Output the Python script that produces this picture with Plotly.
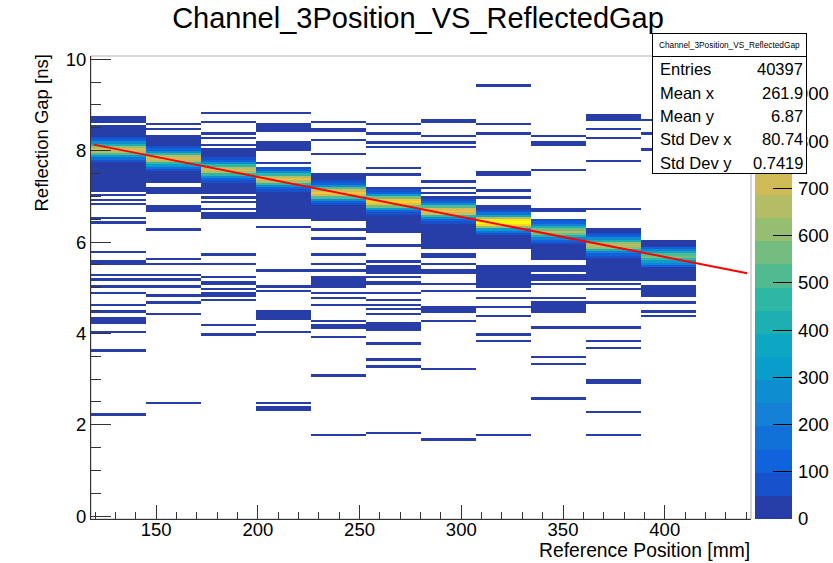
import numpy as np
import plotly.graph_objects as go

W, H = 833, 563

title_text = "Channel_3Position_VS_ReflectedGap"
x_title = "Reference Position [mm]"
y_title = "Reflection Gap [ns]"

# histogram binning
x_first_edge = 118.0
x_bin_width = 27.03
n_x_bins = 12
y_bin_width = 0.05
n_y_bins = 204
x_range = [118.0, 442.4]
y_range = [-0.06, 10.07]
z_max = 980

# occupied y ranges per x bin: [y_low, y_high, count]
bin01 = [[8.60, 8.75, 8], [7.10, 8.57, 10], [7.00, 7.00, 2], [6.90, 6.90, 2], [6.81, 6.81, 2],
         [6.52, 6.57, 5], [6.38, 6.46, 6], [5.75, 5.75, 2], [5.48, 5.58, 5], [5.27, 5.27, 2],
         [5.16, 5.16, 2], [5.01, 5.01, 2], [4.85, 4.91, 4], [4.61, 4.61, 2], [4.48, 4.53, 3],
         [4.34, 4.39, 4], [4.19, 4.29, 5], [4.02, 4.02, 2], [3.62, 3.62, 1], [2.22, 2.22, 1]]
bin02 = [[8.59, 8.59, 2], [8.48, 8.48, 2], [7.28, 8.36, 10], [7.07, 7.22, 6], [6.63, 6.81, 6],
         [6.25, 6.25, 2], [5.60, 5.60, 2], [5.50, 5.50, 2], [5.27, 5.27, 2], [5.16, 5.16, 2],
         [5.03, 5.03, 2], [4.78, 4.87, 4], [4.67, 4.67, 2], [4.41, 4.41, 2], [2.46, 2.46, 1]]
bin03 = [[8.80, 8.80, 2], [8.64, 8.64, 2], [8.36, 8.42, 4], [8.29, 8.29, 2], [8.13, 8.13, 2],
         [7.03, 8.05, 10], [6.95, 6.95, 2], [6.87, 6.87, 2], [6.68, 6.76, 5], [6.52, 6.63, 6],
         [5.73, 5.73, 2], [5.50, 5.50, 2], [5.21, 5.21, 2], [5.07, 5.14, 4], [4.97, 4.97, 2],
         [4.79, 4.91, 5], [4.72, 4.72, 2], [4.15, 4.15, 2], [3.94, 4.00, 3]]
bin04 = [[8.84, 8.84, 2], [8.38, 8.60, 8], [8.07, 8.20, 5], [8.00, 8.00, 2], [7.74, 7.74, 2],
         [6.56, 7.65, 10], [6.51, 6.51, 2], [6.34, 6.34, 2], [5.36, 5.36, 2], [5.01, 5.01, 2],
         [4.92, 4.92, 2], [4.37, 4.48, 5], [4.31, 4.31, 2], [4.02, 4.02, 2], [2.48, 2.48, 1],
         [2.31, 2.41, 3]]
bin05 = [[8.58, 8.65, 4], [8.38, 8.51, 6], [8.24, 8.24, 2], [7.94, 7.94, 2], [6.45, 7.51, 10],
         [6.23, 6.32, 4], [6.05, 6.05, 2], [5.71, 5.71, 2], [5.50, 5.50, 2], [5.34, 5.42, 4],
         [5.01, 5.27, 8], [4.87, 4.87, 2], [4.75, 4.75, 2], [4.61, 4.61, 2], [4.23, 4.31, 4],
         [4.08, 4.18, 5], [3.91, 3.91, 2], [3.06, 3.06, 1], [1.77, 1.77, 1]]
bin06 = [[8.55, 8.55, 2], [8.33, 8.40, 4], [8.19, 8.19, 2], [8.05, 8.05, 2], [7.63, 7.63, 2],
         [7.49, 7.49, 2], [6.20, 7.20, 10], [5.90, 5.90, 2], [5.56, 5.56, 2], [5.49, 5.49, 2],
         [5.32, 5.43, 5], [5.20, 5.20, 2], [5.04, 5.14, 5], [4.87, 4.87, 2], [4.72, 4.72, 2],
         [4.61, 4.61, 2], [4.52, 4.52, 2], [4.42, 4.42, 2], [4.05, 4.23, 7], [3.77, 3.77, 2],
         [3.42, 3.42, 2], [3.27, 3.27, 2], [1.82, 1.82, 1]]
bin07 = [[8.58, 8.71, 6], [8.33, 8.33, 2], [8.19, 8.19, 2], [8.09, 8.09, 2], [7.31, 7.31, 2],
         [7.16, 7.16, 2], [7.05, 7.05, 2], [5.83, 6.98, 10], [5.63, 5.76, 5], [5.52, 5.52, 2],
         [5.28, 5.42, 5], [5.05, 5.05, 2], [4.91, 4.91, 2], [4.43, 4.58, 6], [4.26, 4.26, 2],
         [3.21, 3.21, 1], [1.68, 1.68, 1]]
bin08 = [[9.44, 9.44, 1], [8.55, 8.55, 2], [8.33, 8.40, 4], [7.54, 7.54, 2], [7.46, 7.46, 2],
         [7.11, 7.11, 2], [6.95, 6.95, 2], [5.83, 6.81, 10], [5.01, 5.49, 8], [4.91, 4.91, 2],
         [4.74, 4.81, 4], [4.56, 4.56, 2], [4.36, 4.36, 2], [3.94, 4.02, 4], [3.81, 3.81, 2],
         [1.77, 1.77, 1]]
bin09 = [[8.33, 8.33, 2], [8.19, 8.19, 2], [8.11, 8.11, 2], [7.59, 7.59, 2], [6.74, 6.74, 2],
         [6.67, 6.67, 2], [5.58, 6.52, 10], [5.37, 5.52, 5], [5.14, 5.28, 5], [5.05, 5.05, 2],
         [4.77, 4.77, 2], [4.45, 4.72, 8], [4.12, 4.12, 2], [3.46, 3.46, 2], [3.31, 3.37, 3],
         [2.57, 2.57, 1]]
bin10 = [[8.67, 8.80, 6], [8.48, 8.48, 2], [8.26, 8.26, 2], [7.75, 7.75, 2], [6.71, 6.71, 2],
         [5.14, 6.32, 10], [5.05, 5.05, 2], [4.96, 4.96, 2], [4.64, 4.72, 4], [4.12, 4.12, 2],
         [3.81, 3.81, 2], [3.67, 3.67, 2], [2.89, 2.99, 4], [2.26, 2.26, 1], [1.77, 1.77, 1]]
bin11 = [[8.64, 8.71, 4], [8.35, 8.35, 2], [8.00, 8.00, 2], [5.14, 6.03, 10], [4.79, 5.03, 8],
         [4.66, 4.66, 2], [4.45, 4.52, 4], [4.35, 4.35, 2]]
bin12 = []
stripes = [bin01, bin02, bin03, bin04, bin05, bin06, bin07, bin08, bin09, bin10, bin11, bin12]

# dense core of each x bin: centre (ns) and counts of 11 y bins from low to high y
core_center = [8.02, 7.80, 7.56, 7.35, 7.09, 6.87, 6.65, 6.40, 6.20, 5.94, 5.69]
core_counts = [
    [70, 170, 320, 500, 650, 700, 600, 420, 250, 130, 60],
    [60, 150, 300, 480, 660, 720, 640, 460, 280, 140, 60],
    [60, 140, 290, 470, 650, 720, 640, 450, 260, 120, 50],
    [50, 130, 270, 460, 660, 740, 660, 460, 260, 120, 50],
    [50, 130, 280, 500, 720, 820, 730, 520, 290, 130, 50],
    [60, 140, 300, 540, 780, 880, 800, 580, 320, 140, 50],
    [50, 120, 270, 480, 690, 780, 720, 520, 290, 130, 50],
    [60, 150, 330, 600, 880, 980, 900, 650, 360, 160, 60],
    [50, 110, 230, 400, 570, 640, 580, 420, 240, 110, 50],
    [50, 110, 240, 420, 600, 680, 610, 440, 250, 120, 50],
    [40, 100, 200, 340, 480, 540, 490, 360, 210, 100, 40],
]

# linear fit drawn over the histogram
fit_p0 = 9.175
fit_p1 = -0.008754
fit_x_range = [119.3, 440.5]

stat_title = "Channel_3Position_VS_ReflectedGap"
stat_names = ["Entries", "Mean x", "Mean y", "Std Dev x", "Std Dev y"]
stat_values = ["40397", "261.9", "6.87", "80.74", "0.7419"]
palette_ticks = [0, 100, 200, 300, 400, 500, 600, 700, 800, 900]

# ---------------------------------------------------------------- colours (ROOT kBird)
bird_stops = [0.0, 0.125, 0.25, 0.375, 0.5, 0.625, 0.75, 0.875, 1.0]
bird_r = [0.2082, 0.0592, 0.0780, 0.0232, 0.1802, 0.5301, 0.8186, 0.9956, 0.9764]
bird_g = [0.1664, 0.3599, 0.5041, 0.6419, 0.7178, 0.7492, 0.7328, 0.7862, 0.9832]
bird_b = [0.5293, 0.8684, 0.8385, 0.7914, 0.6425, 0.4662, 0.3499, 0.1968, 0.0539]
n_levels = 20


def bird(f):
    return "rgb(%d,%d,%d)" % (round(255 * np.interp(f, bird_stops, bird_r)),
                              round(255 * np.interp(f, bird_stops, bird_g)),
                              round(255 * np.interp(f, bird_stops, bird_b)))


colorscale = []
for i in range(n_levels):
    idx = min(int((i + 0.99) * 255 / n_levels), 254)
    c = bird(idx / 254)
    colorscale.append([i / n_levels, c])
    colorscale.append([(i + 1) / n_levels, c])

# ---------------------------------------------------------------- histogram content
z = np.full((n_y_bins, n_x_bins), np.nan)
for ix, segs in enumerate(stripes):
    for lo, hi, n in segs:
        if hi - lo < y_bin_width:
            ks = [int(np.floor(lo / y_bin_width + 1e-9))]
        else:
            ks = range(int(round(lo / y_bin_width)), int(round(hi / y_bin_width)))
        for k in ks:
            z[k, ix] = n
for ix, (cy, counts) in enumerate(zip(core_center, core_counts)):
    kc = int(np.floor(cy / y_bin_width + 1e-9))
    half = len(counts) // 2
    for j, n in enumerate(counts):
        z[kc - half + j, ix] = n

# ---------------------------------------------------------------- layout helpers
ML, MR, MT, MB = 91, 41, 56, 44
PW, PH = W - ML - MR, H - MT - MB


def px(xp):
    return (xp - ML) / PW


def py(yp):
    return (H - MB - yp) / PH


FONT = "Liberation Sans, Arial, Helvetica, sans-serif"
AX = "#333333"

fig = go.Figure()
fig.add_trace(go.Heatmap(
    z=z, x0=x_first_edge + x_bin_width / 2, dx=x_bin_width,
    y0=y_bin_width / 2, dy=y_bin_width,
    colorscale=colorscale, zmin=0, zmax=z_max, showscale=False,
    hoverinfo="skip", xaxis="x", yaxis="y"))

fit_x = np.array(fit_x_range)
fig.add_trace(go.Scatter(x=fit_x, y=fit_p0 + fit_p1 * fit_x, mode="lines",
                         line=dict(color="#ff0000", width=2), hoverinfo="skip",
                         showlegend=False, xaxis="x", yaxis="y"))

# palette (colour axis) drawn as its own small heatmap
band = z_max / n_levels
fig.add_trace(go.Heatmap(
    z=[[(i + 0.5) * band] for i in range(n_levels)], x0=0, dx=1, y0=band / 2, dy=band,
    colorscale=colorscale, zmin=0, zmax=z_max, showscale=False, hoverinfo="skip",
    xaxis="x2", yaxis="y2"))

tickfont = dict(family=FONT, size=18.5, color="black")
fig.update_layout(
    width=W, height=H, margin=dict(l=ML, r=MR, t=MT, b=MB, autoexpand=False),
    paper_bgcolor="white", plot_bgcolor="white", showlegend=False,
    title=dict(text=title_text, x=418 / W, y=1 - 18 / H, xanchor="center", yanchor="middle",
               font=dict(family=FONT, size=29, color="black")),
    xaxis=dict(domain=[0, px(751)], range=x_range, tick0=0, dtick=50, ticks="inside",
               ticklen=14, tickcolor=AX, showline=True, linecolor=AX, linewidth=1,
               showgrid=False, zeroline=False, tickfont=tickfont, anchor="y",
               ticklabelstandoff=-6, automargin=False,
               minor=dict(dtick=10, tick0=0, ticks="inside", ticklen=7.5, tickcolor=AX,
                          showgrid=False)),
    yaxis=dict(domain=[0, 1], range=y_range, tick0=0, dtick=2, ticks="inside",
               ticklen=20, tickcolor=AX, showline=True, linecolor=AX, linewidth=1,
               showgrid=False, zeroline=False, tickfont=tickfont, anchor="x",
               automargin=False,
               minor=dict(dtick=0.5, tick0=0, ticks="inside", ticklen=10, tickcolor=AX,
                          showgrid=False)),
    xaxis2=dict(domain=[px(755), px(792)], range=[-0.5, 0.5], visible=False, anchor="y2"),
    yaxis2=dict(domain=[0, 1], range=[0, z_max], anchor="x2", side="right",
                tickvals=palette_ticks, ticks="inside", ticklen=19, tickcolor="black",
                ticklabelstandoff=5, automargin=False,
                showline=False, showgrid=False, zeroline=False, tickfont=tickfont),
)

shapes = [
    dict(type="rect", xref="paper", yref="paper", x0=0, x1=px(751), y0=0, y1=1,
         line=dict(color="#b0b0b0", width=1), layer="below"),
]
fig.update_layout(shapes=shapes)

box_left, box_right = 652, 807
ann = [
    dict(text=x_title, xref="paper", yref="paper", x=px(752), y=py(550),
         xanchor="right", yanchor="middle", showarrow=False,
         font=dict(family=FONT, size=19.3, color="black")),
    dict(text=y_title, xref="paper", yref="paper", x=px(41), y=py(53),
         xanchor="center", yanchor="top", textangle=-90, showarrow=False,
         font=dict(family=FONT, size=18.5, color="black")),
    # statistics box: body then title row (drawn above axis labels)
    dict(text="&nbsp;", xref="paper", yref="paper", x=px(box_left), y=py(56),
         xanchor="left", yanchor="top", showarrow=False, width=box_right - box_left - 2,
         height=174 - 56 - 2, bgcolor="white", bordercolor="black", borderwidth=1,
         borderpad=0, font=dict(family=FONT, size=8, color="black")),
    dict(text=stat_title, xref="paper", yref="paper", x=px(box_left), y=py(33),
         xanchor="left", yanchor="top", showarrow=False, width=box_right - box_left - 2,
         height=57 - 33 - 2, bgcolor="white", bordercolor="black", borderwidth=1,
         borderpad=0, align="center", valign="middle",
         font=dict(family=FONT, size=8.3, color="black")),
]
row_y = [69.3, 92.7, 116.0, 139.3, 162.7]
for name, val, yy in zip(stat_names, stat_values, row_y):
    ann.append(dict(text=name, xref="paper", yref="paper", x=px(658), y=py(yy),
                    xanchor="left", yanchor="middle", showarrow=False,
                    font=dict(family=FONT, size=16.5, color="black")))
    ann.append(dict(text=val, xref="paper", yref="paper", x=px(805), y=py(yy),
                    xanchor="right", yanchor="middle", showarrow=False,
                    font=dict(family=FONT, size=16.5, color="black")))
fig.update_layout(annotations=ann)

fig.write_html("out.html")
